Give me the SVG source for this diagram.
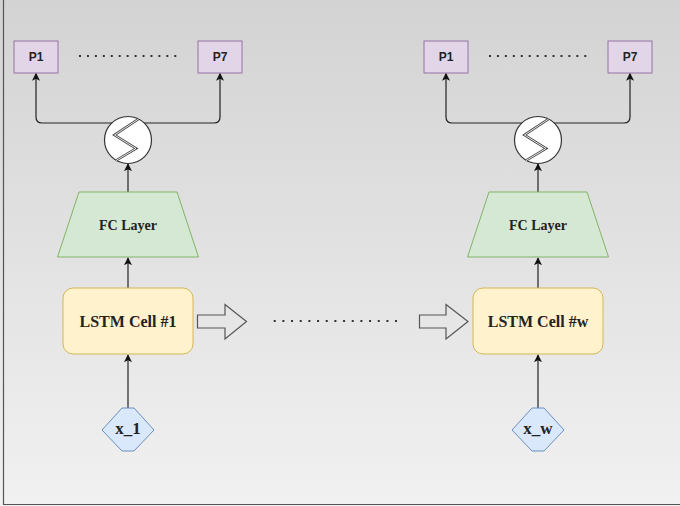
<svg xmlns="http://www.w3.org/2000/svg" width="680" height="506" viewBox="0 0 680 506">
<defs>
<linearGradient id="bg" x1="0" y1="0" x2="0" y2="1">
<stop offset="0" stop-color="#d3d3d3"/>
<stop offset="1" stop-color="#f1f1f1"/>
</linearGradient>
<marker id="ah" viewBox="0 0 10 10" refX="9" refY="5" markerWidth="8" markerHeight="8" markerUnits="userSpaceOnUse" orient="auto">
<path d="M0,0 L10,5 L0,10 L2.5,5 Z" fill="#111"/>
</marker>
<style>
.p{fill:#e1d5e7;stroke:#9673a6;stroke-width:1}
.fc{fill:#d5e8d4;stroke:#82b366;stroke-width:1}
.cell{fill:#fff2cc;stroke:#d6b656;stroke-width:1}
.inp{fill:#dae8fc;stroke:#6c8ebf;stroke-width:1}
.sig{fill:#fff;stroke:#333;stroke-width:1.2}
.sline{fill:none;stroke:#444;stroke-width:2.6;stroke-linejoin:miter}
.sline2{fill:none;stroke:#fff;stroke-width:0.9;stroke-linejoin:miter}
.blk{fill:none;stroke:#555;stroke-width:1.2}
.edge{fill:none;stroke:#222;stroke-width:1.2;marker-end:url(#ah)}
.dots{stroke:#333;stroke-width:2.2}
.sans{font-family:"Liberation Sans",Arial,sans-serif;font-size:12px;font-weight:bold;fill:#222;text-anchor:middle}
.serif{font-family:"Liberation Serif","Times New Roman",serif;font-weight:bold;fill:#222;text-anchor:middle}
</style>
</defs>
<rect x="0" y="0" width="680" height="506" fill="url(#bg)"/>
<path d="M3.5,0 V504.5 H680" fill="none" stroke="#555" stroke-width="1.2"/>

<g id="connectors">
<path class="edge" d="M113,123 H42 Q36,123 36,117 V73.5"/>
<path class="edge" d="M143,123 H214 Q220,123 220,117 V73.5"/>
<path class="edge" d="M128,192 V164"/>
<path class="edge" d="M128,288 V258"/>
<path class="edge" d="M128,408 V355"/>
<path class="edge" d="M523,123 H452 Q446,123 446,117 V73.5"/>
<path class="edge" d="M553,123 H624 Q630,123 630,117 V73.5"/>
<path class="edge" d="M538,192 V164"/>
<path class="edge" d="M538,288 V258"/>
<path class="edge" d="M538,408 V355"/>
</g>

<g id="dots">
<line class="dots" x1="79" y1="56" x2="177" y2="56" stroke-dasharray="2 5.94"/>
<line class="dots" x1="489" y1="56" x2="587" y2="56" stroke-dasharray="2 5.94"/>
<line class="dots" x1="273.7" y1="321" x2="397" y2="321" stroke-dasharray="2 6.67"/>
</g>

<g id="p1-left"><rect class="p" x="14" y="41" width="44" height="32"/><text class="sans" x="36" y="61">P1</text></g>
<g id="p7-left"><rect class="p" x="198" y="41" width="44" height="32"/><text class="sans" x="220" y="61">P7</text></g>
<g id="p1-right"><rect class="p" x="424" y="41" width="44" height="32"/><text class="sans" x="446" y="61">P1</text></g>
<g id="p7-right"><rect class="p" x="608" y="41" width="44" height="32"/><text class="sans" x="630" y="61">P7</text></g>

<g id="sigmoid-left">
<circle class="sig" cx="128" cy="140" r="23.5"/>
<path class="sline" d="M138.5,119 L114.5,135 L136,148.5 L116,160.5"/>
<path class="sline2" d="M138.5,119 L114.5,135 L136,148.5 L116,160.5"/>
</g>
<g id="sigmoid-right">
<circle class="sig" cx="538" cy="140" r="23.5"/>
<path class="sline" d="M548.5,119 L524.5,135 L546,148.5 L526,160.5"/>
<path class="sline2" d="M548.5,119 L524.5,135 L546,148.5 L526,160.5"/>
</g>

<g id="fc-left"><path class="fc" d="M79,192 H177 L198.5,257 H57.5 Z"/><text class="serif" x="128" y="230" font-size="14">FC Layer</text></g>
<g id="fc-right"><path class="fc" d="M489,192 H587 L608.5,257 H467.5 Z"/><text class="serif" x="538" y="230" font-size="14">FC Layer</text></g>

<g id="lstm-left"><rect class="cell" x="63" y="288" width="130" height="66" rx="10"/><text class="serif" x="128" y="327" font-size="16">LSTM Cell #1</text></g>
<g id="lstm-right"><rect class="cell" x="473" y="288" width="130" height="66" rx="10"/><text class="serif" x="538" y="327" font-size="16">LSTM Cell #w</text></g>

<g id="block-arrow-left"><path class="blk" d="M197.5,315 H225 V304.5 L246.5,321.5 L225,339 V328 H197.5 Z"/></g>
<g id="block-arrow-right"><path class="blk" d="M419.5,315 H446 V304.5 L468,321.5 L446,339 V328 H419.5 Z"/></g>

<g id="x1"><path class="inp" d="M122,408 H134 L154,430 L134,451 H122 L102,430 Z"/><text class="serif" x="128" y="434" font-size="17">x_1</text></g>
<g id="xw"><path class="inp" d="M532,408 H544 L564,430 L544,451 H532 L512,430 Z"/><text class="serif" x="538" y="434" font-size="17">x_w</text></g>
</svg>
